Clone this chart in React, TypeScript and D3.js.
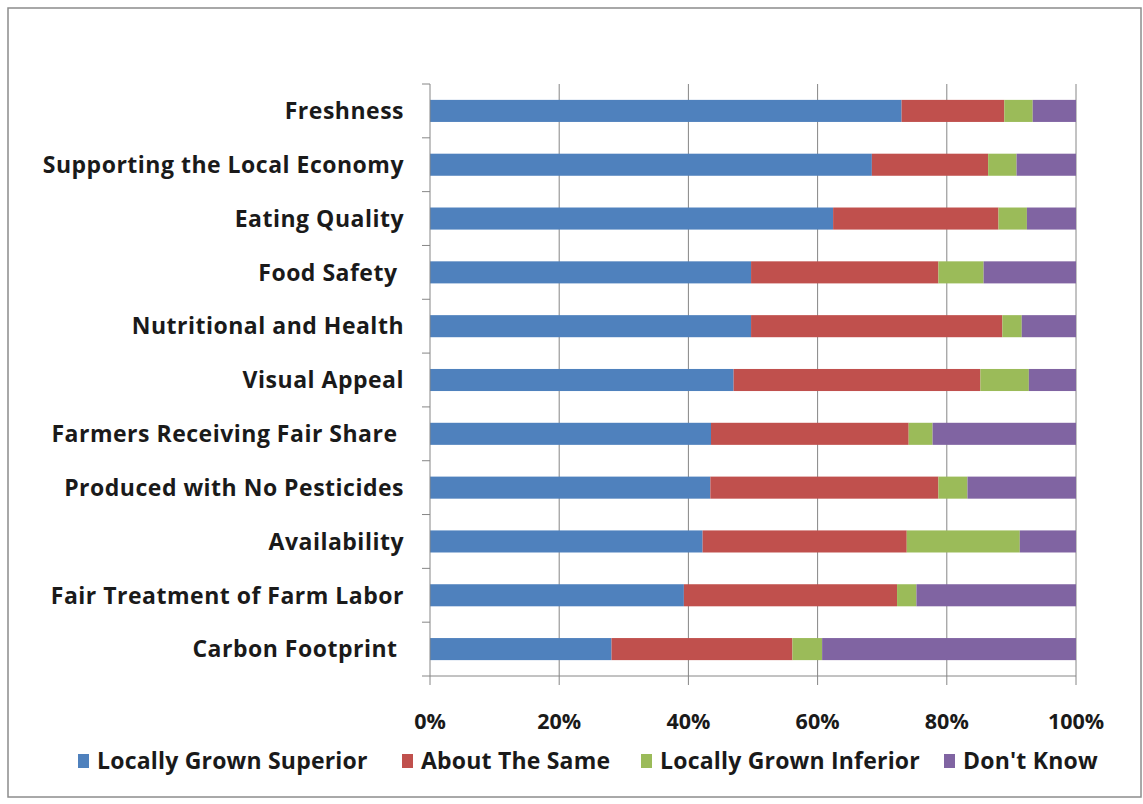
import React from "react";
import * as d3 from "d3";

const categories = [
  "Freshness",
  "Supporting the Local Economy",
  "Eating Quality",
  "Food Safety ",
  "Nutritional and Health",
  "Visual Appeal",
  "Farmers Receiving Fair Share ",
  "Produced with No Pesticides",
  "Availability",
  "Fair Treatment of Farm Labor",
  "Carbon Footprint ",
];

const seriesNames = [
  "Locally Grown Superior",
  "About The Same",
  "Locally Grown Inferior",
  "Don't Know",
];

const superior = [73.0, 68.4, 62.4, 49.7, 49.7, 47.0, 43.5, 43.4, 42.2, 39.3, 28.1];
const aboutSame = [15.9, 18.0, 25.6, 29.0, 38.9, 38.2, 30.6, 35.3, 31.6, 33.0, 28.0];
const inferior = [4.4, 4.4, 4.4, 7.0, 3.0, 7.5, 3.7, 4.5, 17.5, 3.0, 4.6];
const dontKnow = [6.7, 9.2, 7.6, 14.3, 8.4, 7.3, 22.2, 16.8, 8.7, 24.7, 39.3];

const tickValues = [0, 0.2, 0.4, 0.6, 0.8, 1];

const colors = ["#4F81BD", "#C0504D", "#9BBB59", "#8064A2"];

const W = 1143;
const H = 804;
const margin = { left: 430, right: 67, top: 84, bottom: 128 };
const FONT = "'Open Sans', Lato, sans-serif";

export default function App() {
  const rows = categories.map((c, i) => {
    const vals = [superior[i], aboutSame[i], inferior[i], dontKnow[i]];
    const total = d3.sum(vals);
    const r: Record<string, any> = { category: c };
    seriesNames.forEach((s, k) => (r[s] = vals[k] / total));
    return r;
  });

  const stacked = d3.stack<any>().keys(seriesNames)(rows);

  const x = d3
    .scaleLinear()
    .domain([0, 1])
    .range([margin.left, W - margin.right]);
  const y = d3
    .scaleBand<string>()
    .domain(categories)
    .range([margin.top, H - margin.bottom])
    .paddingInner(0.59)
    .paddingOuter(0.295);

  const y0 = margin.top;
  const y1 = H - margin.bottom;
  const boundaries = d3.range(categories.length + 1).map((i) => y0 + (y1 - y0) * (i / categories.length));
  const fmt = d3.format(".0%");

  const legendX = [78, 402, 641, 944];

  return (
    <svg
      width={W}
      height={H}
      style={{ position: "absolute", left: 0, top: 0, background: "#fff" }}
      fontFamily={FONT}
    >
      <rect x={0} y={0} width={W} height={H} fill="#fff" />
      <rect x={8} y={8} width={1133} height={789} fill="#fff" stroke="#8c8c8c" strokeWidth={1.5} />

      {/* vertical gridlines with tick marks below the axis */}
      {tickValues.slice(1).map((t) => (
        <line key={t} x1={x(t)} x2={x(t)} y1={y0} y2={y1 + 9} stroke="#868686" strokeWidth={1} />
      ))}

      {/* stacked bars */}
      {stacked.map((layer, k) => (
        <g key={layer.key} fill={colors[k]}>
          {layer.map((d, i) => (
            <rect
              key={i}
              x={x(d[0])}
              y={y(categories[i])}
              width={x(d[1]) - x(d[0])}
              height={y.bandwidth()}
            />
          ))}
        </g>
      ))}

      {/* category axis */}
      <line x1={x(0)} x2={x(0)} y1={y0} y2={y1 + 9} stroke="#868686" strokeWidth={1} />
      {boundaries.map((b, i) => (
        <line key={i} x1={x(0) - 8} x2={x(0)} y1={b} y2={b} stroke="#868686" strokeWidth={1} />
      ))}
      {/* value axis */}
      <line x1={x(0)} x2={x(1)} y1={y1} y2={y1} stroke="#868686" strokeWidth={1} />

      {categories.map((c) => (
        <text
          key={c}
          x={404}
          y={(y(c) as number) + y.bandwidth() / 2}
          dy="0.36em"
          textAnchor="end"
          fontSize={23}
          letterSpacing={0.5}
          fontWeight={700}
          fill="#1a1a1a"
          style={{ whiteSpace: "pre" }}
        >
          {c}
        </text>
      ))}

      {tickValues.map((t) => (
        <text
          key={t}
          x={x(t)}
          y={729}
          textAnchor="middle"
          fontSize={21.5}
          fontWeight={700}
          fill="#1a1a1a"
        >
          {fmt(t)}
        </text>
      ))}

      {/* legend */}
      {seriesNames.map((s, k) => (
        <g key={s}>
          <rect x={legendX[k]} y={754} width={11} height={14} fill={colors[k]} />
          <text
            x={legendX[k] + 19}
            y={769}
            fontSize={23}
            letterSpacing={0.2}
            fontWeight={700}
            fill="#1a1a1a"
          >
            {s}
          </text>
        </g>
      ))}
    </svg>
  );
}
